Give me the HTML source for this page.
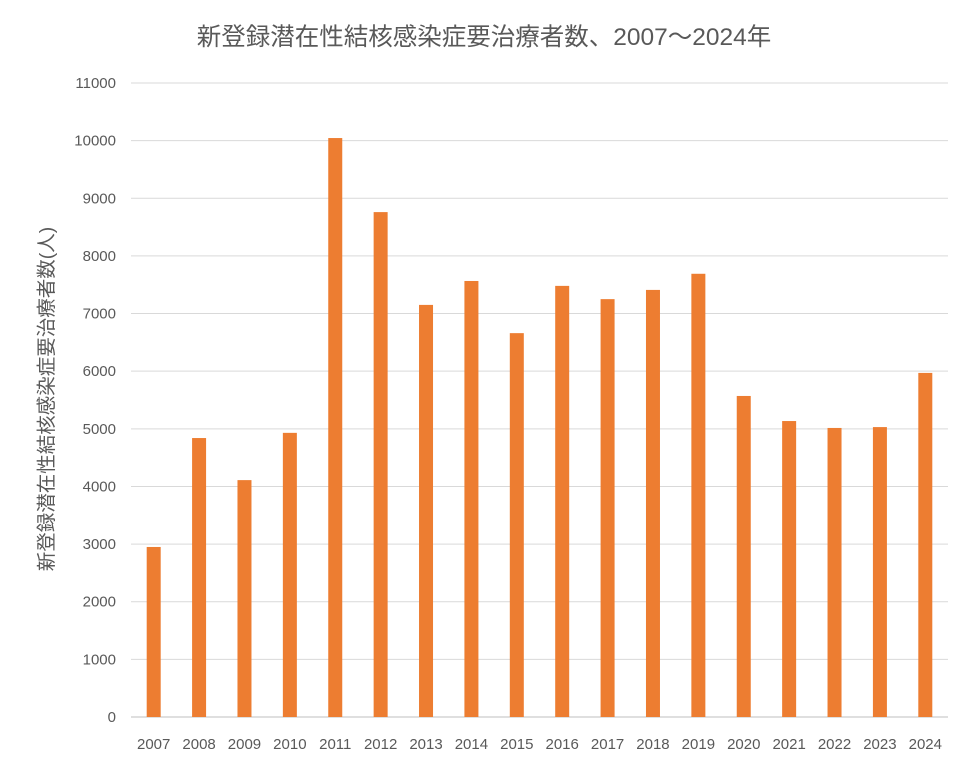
<!DOCTYPE html>
<html><head><meta charset="utf-8"><style>
body{margin:0;background:#fff;}
svg text{font-family:"Liberation Sans","Noto Sans CJK JP",sans-serif;fill:#595959;}
</style></head><body>
<svg width="971" height="766" xmlns="http://www.w3.org/2000/svg">
<rect width="971" height="766" fill="#fff"/>
<text x="484" y="45" font-size="24.5" text-anchor="middle">新登録潜在性結核感染症要治療者数、2007～2024年</text>
<text transform="translate(53,399) rotate(-90)" font-size="19.5" text-anchor="middle">新登録潜在性結核感染症要治療者数(人)</text>
<g id="grid"></g><g id="bars"></g><g id="xl"></g>
</svg>
<script>
const categories=["2007","2008","2009","2010","2011","2012","2013","2014","2015","2016","2017","2018","2019","2020","2021","2022","2023","2024"];
const values=[2950,4840,4110,4930,10045,8760,7150,7565,6660,7480,7250,7410,7690,5570,5135,5015,5030,5970];
const yTicks=[0,1000,2000,3000,4000,5000,6000,7000,8000,9000,10000,11000];
const NS="http://www.w3.org/2000/svg";
const x0=131,x1=948,y0=717,yTop=83,yMax=11000;
const y=v=>y0-(v/yMax)*(y0-yTop);
const bw=(x1-x0)/categories.length;
const xc=i=>x0+bw*(i+0.5);
function mk(t,a,p){const e=document.createElementNS(NS,t);for(const k in a)e.setAttribute(k,a[k]);document.getElementById(p).appendChild(e);return e;}
yTicks.forEach(t=>{
  const l=mk('line',{x1:x0,x2:x1,y1:y(t),y2:y(t),stroke:t===0?'#bfbfbf':'#d9d9d9','stroke-width':1},'grid');
  
  
  const tx=mk('text',{x:116,y:y(t)+5,'font-size':15,'text-anchor':'end'},'grid');
  tx.textContent=t;
  
  
});
categories.forEach((c,i)=>{
  const r=mk('rect',{x:xc(i)-7,y:y(values[i]),width:14,height:y0-y(values[i]),fill:'#ed7d31'},'bars');
  
  
  const tx=mk('text',{x:xc(i),y:749,'font-size':15,'text-anchor':'middle'},'xl');
  tx.textContent=c;
  
  
});
</script>
</body></html>
